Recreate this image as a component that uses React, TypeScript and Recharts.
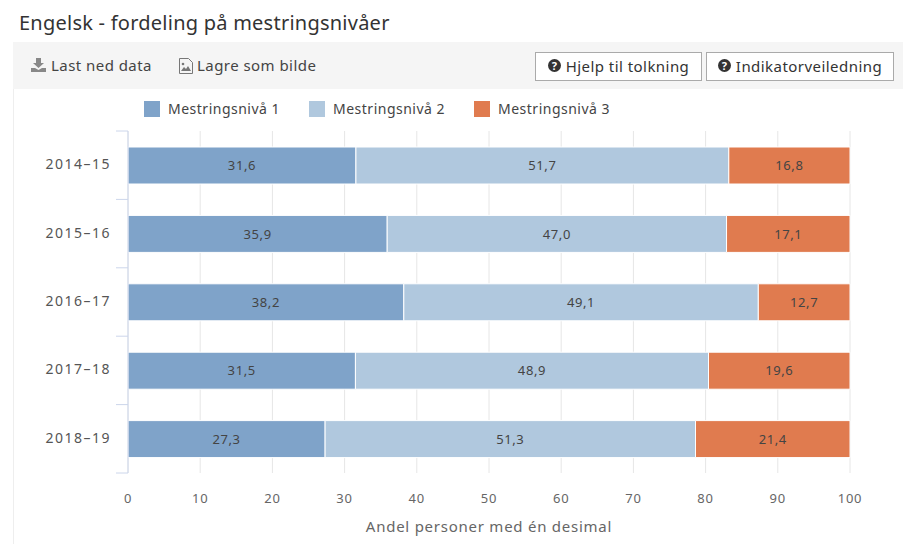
import { BarChart, Bar, XAxis, YAxis, CartesianGrid, Legend, LabelList } from 'recharts'

const years = ['2014-15', '2015-16', '2016-17', '2017-18', '2018-19']
const niva1 = [31.6, 35.9, 38.2, 31.5, 27.3]
const niva2 = [51.7, 47.0, 49.1, 48.9, 51.3]
const niva3 = [16.8, 17.1, 12.7, 19.6, 21.4]
const xTicks = [0, 0.1, 0.2, 0.3, 0.4, 0.5, 0.6, 0.7, 0.8, 0.9, 1]

const seriesNames = ['Mestringsnivå 1', 'Mestringsnivå 2', 'Mestringsnivå 3']
const seriesColors = ['#7fa3c9', '#b0c8de', '#e07b4f']

const data = years.map((year, i) => ({ year, n1: niva1[i], n2: niva2[i], n3: niva3[i] }))

const font = '"Noto Sans", sans-serif'
const formatLabel = (v: number) => v.toFixed(1).replace('.', ',')

function YearTick({ y, payload, index }: any) {
  const step = payload.offset
  const last = index === years.length - 1
  return (
    <g>
      <line x1={116} x2={128} y1={y - step} y2={y - step} stroke="#ccd6eb" />
      {last && <line x1={116} x2={128} y1={y + step} y2={y + step} stroke="#ccd6eb" />}
      <text x={111} y={y + 4} textAnchor="end" fontSize={14} fill="#555" letterSpacing={1.5}>
        {payload.value.replace('-', '–')}
      </text>
    </g>
  )
}

function LegendRow() {
  return (
    <div style={{ display: 'flex', fontFamily: font, fontSize: 14, color: '#444', letterSpacing: 0.5 }}>
      {seriesNames.map((name, i) => (
        <div key={name} style={{ width: 165, display: 'flex', alignItems: 'center' }}>
          <span style={{ width: 16, height: 16, background: seriesColors[i], marginRight: 8 }} />
          {name}
        </div>
      ))}
    </div>
  )
}

function HelpIcon() {
  return (
    <svg width={13} height={13} viewBox="0 0 13 13" style={{ marginRight: 5 }}>
      <circle cx={6.5} cy={6.5} r={6.5} fill="#333" />
      <text x={6.5} y={10.5} textAnchor="middle" fontSize={11} fontWeight={700} fill="#fff">?</text>
    </svg>
  )
}

function Button({ left, width, label }: { left: number; width: number; label: string }) {
  return (
    <div style={{
      position: 'absolute', left, top: 52, width, height: 29, boxSizing: 'border-box', background: '#fff',
      border: '1px solid #aaa', display: 'flex', alignItems: 'center', justifyContent: 'center',
      fontSize: 15, color: '#333', letterSpacing: 0.45, paddingBottom: 2,
    }}>
      <HelpIcon />
      {label}
    </div>
  )
}

export default function App() {
  return (
    <div style={{ position: 'absolute', left: 0, top: 0, width: 903, height: 544, overflow: 'hidden', background: '#fff', fontFamily: font }}>
      <div style={{ position: 'absolute', left: 19, top: 9, fontSize: 20, color: '#333', letterSpacing: 0.24, whiteSpace: 'nowrap' }}>
        Engelsk - fordeling på mestringsnivåer
      </div>
      <div style={{ position: 'absolute', left: 13, top: 42, width: 890, height: 502, borderLeft: '1px solid #eee', boxSizing: 'border-box' }} />
      <div style={{ position: 'absolute', left: 13, top: 42, width: 890, height: 47, background: '#f5f5f5' }} />

      <svg width={15} height={14} viewBox="0 0 15 14" style={{ position: 'absolute', left: 31, top: 58 }}>
        <path d="M5 0h5v5h3l-5.5 5L2 5h3z M0 10h4l3.5 2 3.5-2h4v4H0z" fill="#888" />
      </svg>
      <div style={{ position: 'absolute', left: 51, top: 55, fontSize: 15, color: '#444', letterSpacing: 0.45, whiteSpace: 'nowrap' }}>Last ned data</div>
      <svg width={14} height={16} viewBox="0 0 14 16" style={{ position: 'absolute', left: 179, top: 58 }}>
        <path d="M0.5 0.5h9l4 4v11H0.5z" fill="none" stroke="#777" />
        <path d="M2 13l3-4 2 2 2-3 3 5z" fill="#777" />
        <circle cx={4} cy={6} r={1.3} fill="#777" />
      </svg>
      <div style={{ position: 'absolute', left: 197, top: 55, fontSize: 15, color: '#444', letterSpacing: 0.45, whiteSpace: 'nowrap' }}>Lagre som bilde</div>

      <Button left={535} width={167} label="Hjelp til tolkning" />
      <Button left={706} width={188} label="Indikatorveiledning" />

      <div style={{ position: 'absolute', left: 0, top: 0 }}>
        <BarChart
          width={903}
          height={544}
          data={data}
          layout="vertical"
          stackOffset="expand"
          margin={{ top: 113, right: 53, bottom: 0, left: 0 }}
          style={{ fontFamily: font }}
        >
          <CartesianGrid horizontal={false} stroke="#e6e6e6" />
          <XAxis
            type="number"
            domain={[0, 1]}
            ticks={xTicks}
            tickFormatter={(v: number) => String(Math.round(v * 100))}
            axisLine={false}
            tickLine={false}
            tick={{ fontSize: 13, fill: '#666', letterSpacing: 0.8 }}
            tickMargin={15}
            height={71}
            label={{ value: 'Andel personer med én desimal', position: 'insideBottom', offset: 12, fontSize: 15, fill: '#666', letterSpacing: 0.75 }}
          />
          <YAxis
            type="category"
            dataKey="year"
            width={128}
            axisLine={{ stroke: '#ccd6eb' }}
            tickLine={false}
            tick={YearTick}
            interval={0}
          />
          <Legend
            verticalAlign="top"
            content={LegendRow}
            wrapperStyle={{ position: 'absolute', left: 144, top: 99, width: 600, height: 18 }}
          />
          {['n1', 'n2', 'n3'].map((key, i) => (
            <Bar key={key} dataKey={key} stackId="a" name={seriesNames[i]} fill={seriesColors[i]} stroke="#fff" barSize={37} isAnimationActive={false}>
              <LabelList dataKey={key} position="center" formatter={formatLabel} fontSize={13} fill="#444" letterSpacing={0.6} />
            </Bar>
          ))}
        </BarChart>
      </div>
    </div>
  )
}
